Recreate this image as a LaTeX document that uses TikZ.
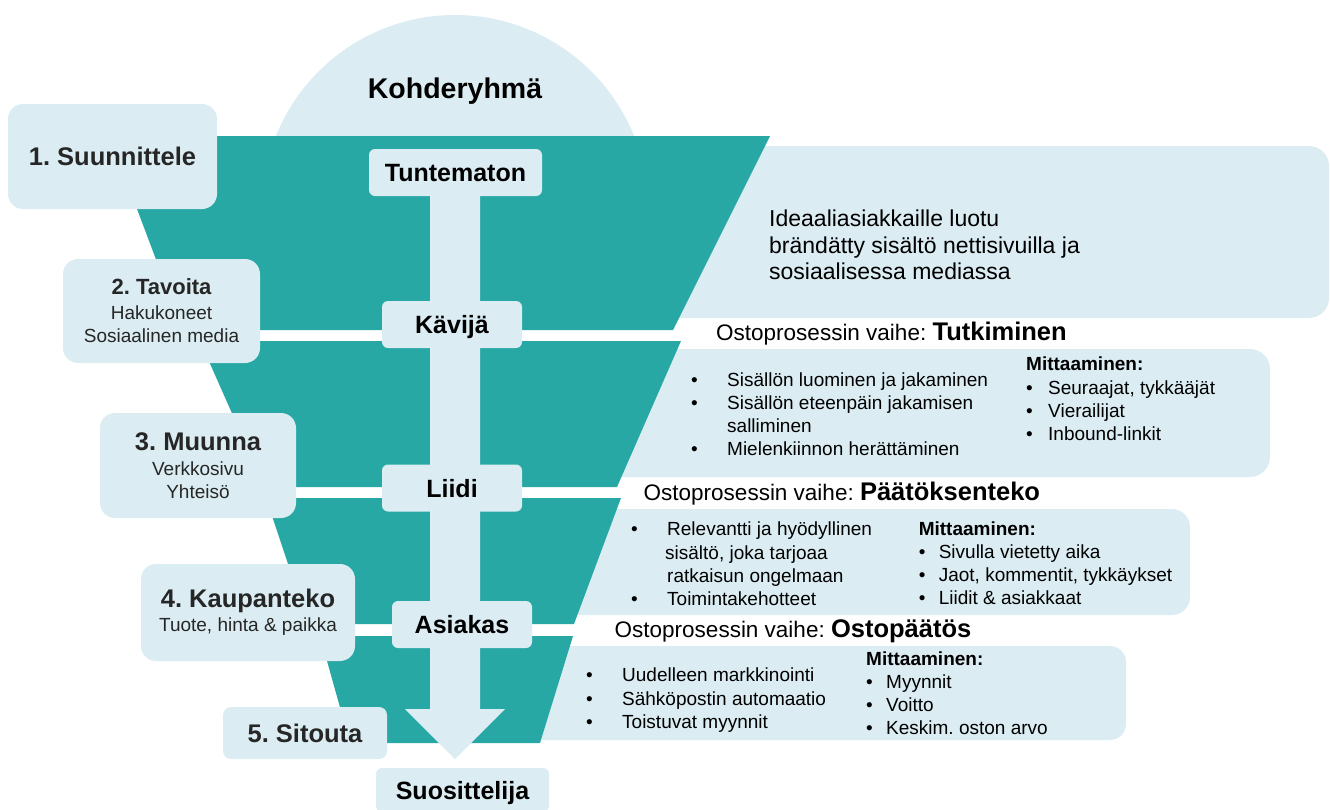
\documentclass[tikz,border=0pt]{standalone}
\usepackage{fontspec}
\setmainfont{Liberation Sans}
\usetikzlibrary{positioning,calc}
\frenchspacing
\definecolor{funnelteal}{RGB}{39,168,165}
\definecolor{paleblue}{RGB}{219,237,243}
\definecolor{boxtext}{RGB}{38,38,38}
\tikzset{
    band/.style={fill=funnelteal},
    level/.style={fill=paleblue, rounded corners=6pt, minimum height=47pt, inner sep=0pt,
                  text height=18pt, text depth=0pt, font=\fontsize{25}{30}\selectfont\bfseries},
    stepbox/.style={fill=paleblue, rounded corners=15pt, inner sep=0pt, align=center,
                    text=boxtext, font=\fontsize{19}{23}\selectfont},
    panel/.style={fill=paleblue, rounded corners=20pt, inner sep=0pt},
    phase/.style={anchor=base west, inner sep=0pt, font=\fontsize{22.5}{27}\selectfont},
    body/.style={anchor=north west, inner sep=0pt, align=left, font=\fontsize{19}{23.3}\selectfont},
}
\newcommand{\steptitle}[1]{{\fontsize{25.5}{30}\selectfont\bfseries #1}}
\newcommand{\phasename}[1]{{\fontsize{25.5}{30}\selectfont\bfseries #1}}
\newcommand{\bul}{\makebox[36pt][l]{•}}
\newcommand{\mbul}[1]{\makebox[#1][l]{•}}

\begin{document}
\begin{tikzpicture}[x=1pt,y=-1pt]
    \useasboundingbox (0,0) rectangle (1330,809);
    \clip (0,0) rectangle (1330,809);

    % Target group dome
    \begin{scope}
        \clip (0,0) rectangle (1330,136);
        \fill[paleblue] (455,208) circle (193pt);
    \end{scope}
    \node[anchor=base, font=\fontsize{28.5}{34}\selectfont\bfseries] (target) at (455,98) {Kohderyhmä};

    % Panels behind the funnel
    \node[panel, minimum width=729pt, minimum height=172pt] (panelA) at (964.5,232) {};
    \node[panel, minimum width=710pt, minimum height=128pt] (panelB) at (915,413) {};
    \node[panel, minimum width=650pt, minimum height=106pt, rounded corners=18pt] (panelC) at (865,562) {};
    \node[panel, minimum width=616pt, minimum height=94pt, rounded corners=16pt] (panelD) at (818,693) {};

    % Funnel bands
    \fill[band] (109.5,136) -- (770,136) -- (673,330) -- (182.6,330) -- cycle;
    \fill[band] (200,341) -- (681,341) -- (617,487) -- (264.6,487) -- cycle;
    \fill[band] (266,498) -- (621,498) -- (574,624) -- (308,624) -- cycle;
    \fill[band] (320,636) -- (573,636) -- (540,743) -- (350,743) -- cycle;

    % Down arrow
    \fill[paleblue] (430,190) -- (430,709) -- (405,709) -- (455,759) -- (505,709)
        -- (480,709) -- (480,190) -- cycle;

    % Customer levels
    \node[level, minimum width=173pt] (unknown) at (455.5,172.5) {Tuntematon};
    \node[level, minimum width=140pt] (visitor) at (452,324.5) {Kävijä};
    \node[level, minimum width=140pt] (lead) at (452,488) {Liidi};
    \node[level, minimum width=140pt] (customer) at (462,624.5) {Asiakas};
    \node[level, minimum width=173pt, minimum height=44pt] (promoter) at (462.5,790) {Suosittelija};

    % Steps
    \node[stepbox, minimum width=209pt, minimum height=105pt] (plan) at (112.5,156.5)
        {\steptitle{1. Suunnittele}};
    \node[stepbox, minimum width=197pt, minimum height=104pt] (reach) at (161.5,311)
        {{\fontsize{22}{26}\selectfont\bfseries 2. Tavoita}\\[2pt] Hakukoneet\\ Sosiaalinen media};
    \node[stepbox, minimum width=196pt, minimum height=105pt] (convert) at (198,465.5)
        {\steptitle{3. Muunna}\\[2pt] Verkkosivu\\ Yhteisö};
    \node[stepbox, minimum width=214pt, minimum height=97pt] (deal) at (248,612.5)
        {\steptitle{4. Kaupanteko}\\[1pt] Tuote, hinta \& paikka};
    \node[stepbox, minimum width=164pt, minimum height=52pt, rounded corners=8pt] (engage) at (305,733)
        {\steptitle{5. Sitouta}};

    % Content for the unknown
    \node[body, font=\fontsize{23}{26.3}\selectfont] (ideaText) at (769,209.9)
        {Ideaaliasiakkaille luotu\\ brändätty sisältö nettisivuilla ja\\ sosiaalisessa mediassa};

    % Phase: research
    \node[phase] (phaseA) at (716,340.7) {Ostoprosessin vaihe: \phasename{Tutkiminen}};
    \node[body] (actA) at (691,372.1)
        {\bul Sisällön luominen ja jakaminen\\ \bul Sisällön eteenpäin jakamisen\\
         \hspace*{36pt}salliminen\\ \bul Mielenkiinnon herättäminen};
    \node[body] (measA) at (1026,356.8)
        {\textbf{Mittaaminen:}\\ \mbul{22pt}Seuraajat, tykkääjät\\ \mbul{22pt}Vierailijat\\ \mbul{22pt}Inbound-linkit};

    % Phase: decision
    \node[phase] (phaseB) at (643.5,500.7) {Ostoprosessin vaihe: \phasename{Päätöksenteko}};
    \node[body] (actB) at (631,521.8)
        {\bul Relevantti ja hyödyllinen\\ \hspace*{34pt}sisältö, joka tarjoaa\\
         \hspace*{36pt}ratkaisun ongelmaan\\ \bul Toimintakehotteet};
    \node[body] (measB) at (918.6,521.1)
        {\textbf{Mittaaminen:}\\ \mbul{20pt}Sivulla vietetty aika\\ \mbul{20pt}Jaot, kommentit, tykkäykset\\
         \mbul{20pt}Liidit \& asiakkaat};

    % Phase: purchase
    \node[phase] (phaseC) at (614.5,637.3) {Ostoprosessin vaihe: \phasename{Ostopäätös}};
    \node[body] (actC) at (586,667.8)
        {\bul Uudelleen markkinointi\\ \bul Sähköpostin automaatio\\ \bul Toistuvat myynnit};
    \node[body] (measC) at (866,651.1)
        {\textbf{Mittaaminen:}\\ \mbul{20pt}Myynnit\\ \mbul{20pt}Voitto\\ \mbul{20pt}Keskim. oston arvo};
\end{tikzpicture}
\end{document}
